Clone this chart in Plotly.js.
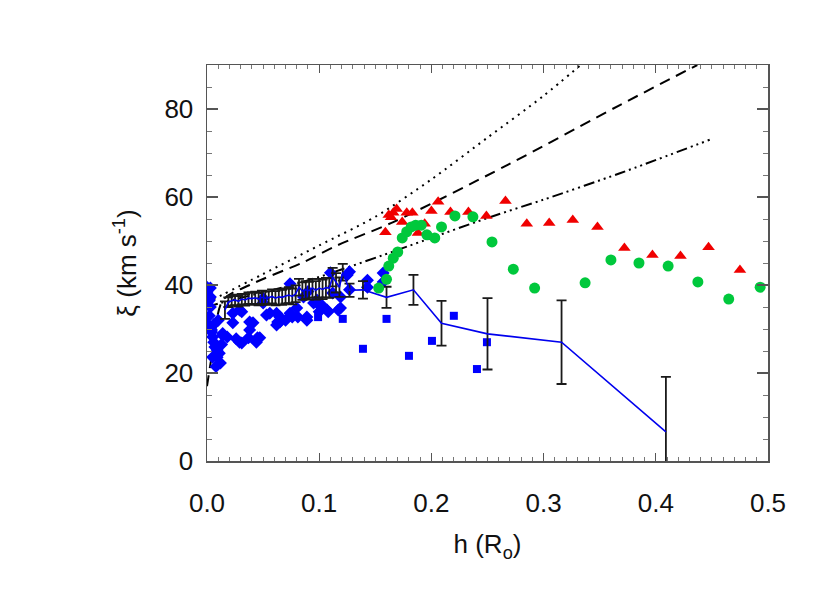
<!DOCTYPE html>
<html>
<head>
<meta charset="utf-8">
<script src="https://cdn.plot.ly/plotly-3.0.1.min.js"></script>
<style>
  body { margin: 0; background: #fff; }
  #plot { width: 830px; height: 593px; }
</style>
</head>
<body>
<div id="plot"></div>
<script>
// model curves (black)
let dotH  = [0.0, 0.05, 0.10, 0.15, 0.20, 0.25, 0.30, 0.333];
let dotXi = [36.0, 42.5, 49.0, 55.5, 64.0, 73.5, 83.0, 90.0];

let dashH  = [0.0, 0.005, 0.014, 0.038, 0.086, 0.116, 0.166, 0.268, 0.368, 0.437];
let dashXi = [17.0, 25.0, 36.5, 40.0, 45.2, 49.0, 54.3, 67.3, 80.9, 90.0];

let ddotH  = [0.0, 0.012, 0.083, 0.1185, 0.157, 0.252, 0.30, 0.368, 0.448];
let ddotXi = [35.0, 35.9, 40.5, 43.4, 46.8, 55.4, 59.4, 65.4, 73.0];

// blue diamonds
let diaH = [0.0, 0.0, 0.001, 0.002, 0.002, 0.003, 0.003, 0.003, 0.004, 0.004, 0.005, 0.005,
  0.006, 0.006, 0.007, 0.008, 0.009, 0.009, 0.010, 0.011, 0.012, 0.013, 0.014, 0.014, 0.018,
  0.023, 0.023, 0.026, 0.029, 0.029, 0.031, 0.031, 0.037, 0.038, 0.038, 0.041, 0.044, 0.045,
  0.047, 0.050, 0.050, 0.053, 0.056, 0.062, 0.062, 0.063, 0.065, 0.065, 0.070, 0.074, 0.074,
  0.076, 0.080, 0.081, 0.086, 0.089, 0.089, 0.090, 0.095, 0.098, 0.098, 0.100, 0.102, 0.107,
  0.108, 0.110, 0.112, 0.117, 0.119, 0.119, 0.125, 0.127, 0.127, 0.143, 0.143, 0.157, 0.157];
let diaXi = [39.5, 38.4, 31.0, 33.0, 36.5, 39.3, 37.3, 35.0, 29.8, 29.3, 28.2, 23.6,
  27.0, 31.0, 25.9, 21.5, 23.6, 25.2, 32.0, 24.5, 22.3, 26.5, 29.0, 28.6, 28.2,
  33.6, 31.4, 27.8, 27.0, 34.3, 33.9, 26.8, 28.0, 31.6, 29.8, 31.4, 27.0, 28.0,
  28.0, 35.9, 37.0, 33.2, 33.6, 33.6, 30.9, 31.6, 32.7, 31.6, 32.0, 40.3, 33.6,
  32.7, 34.8, 32.7, 37.3, 32.7, 32.0, 38.5, 35.9, 36.6, 35.9, 33.9, 35.5, 34.3,
  33.9, 42.8, 38.2, 34.3, 37.3, 34.8, 42.3, 43.0, 38.9, 41.1, 39.5, 42.7, 40.7];

// blue squares
let sqH  = [0.099, 0.121, 0.139, 0.160, 0.180, 0.2005, 0.220, 0.2406, 0.2495];
let sqXi = [32.7, 32.3, 25.5, 32.3, 23.9, 27.3, 33.0, 20.9, 27.0];

// blue mean line with error bars
let meanH = [0.016, 0.019, 0.022, 0.025, 0.028, 0.031, 0.034, 0.037, 0.040, 0.043, 0.046,
  0.049, 0.052, 0.055, 0.058, 0.061, 0.064, 0.067, 0.070, 0.073, 0.076, 0.079, 0.082, 0.085,
  0.088, 0.091, 0.094, 0.097, 0.100, 0.103, 0.106, 0.109, 0.112, 0.115, 0.118, 0.121, 0.127,
  0.139, 0.160, 0.184, 0.209, 0.250, 0.316, 0.409];
let meanXi = [34.3, 36.1, 36.4, 36.6, 36.3, 36.8, 36.6, 37.0, 36.9, 37.1, 36.8,
  37.2, 37.0, 37.1, 37.4, 37.0, 37.3, 37.2, 37.5, 37.7, 37.4, 38.0, 39.5, 38.6,
  38.9, 38.7, 39.3, 38.8, 39.3, 39.0, 39.4, 39.3, 41.8, 40.5, 39.5, 42.9, 38.8,
  38.9, 37.2, 38.9, 31.3, 28.9, 27.0, 6.6];
let meanErr = [2.0, 1.1, 1.1, 1.2, 1.2, 1.2, 1.3, 1.3, 1.4, 1.4, 1.4,
  1.5, 1.5, 1.5, 1.6, 1.6, 1.7, 1.7, 1.7, 1.8, 1.8, 1.9, 1.9, 2.0,
  2.0, 2.0, 2.1, 2.1, 2.1, 2.2, 2.2, 2.2, 2.1, 2.2, 2.2, 1.9, 1.5,
  2.0, 2.4, 3.4, 5.1, 8.1, 9.5, 12.5];

// red triangles
let triH  = [0.159, 0.162, 0.164, 0.166, 0.169, 0.174, 0.178, 0.183, 0.188, 0.194, 0.200,
  0.206, 0.217, 0.233, 0.249, 0.266, 0.285, 0.305, 0.326, 0.348, 0.372, 0.397, 0.422,
  0.447, 0.475];
let triXi = [52.0, 55.9, 55.4, 56.4, 57.3, 54.3, 56.4, 56.4, 51.8, 53.9, 56.8,
  58.9, 56.6, 56.6, 55.7, 59.1, 53.9, 54.1, 54.8, 53.2, 48.4, 46.8, 46.6,
  48.6, 43.4];

// green circles
let cirH  = [0.153, 0.160, 0.162, 0.166, 0.170, 0.174, 0.178, 0.182, 0.186, 0.191, 0.196,
  0.203, 0.209, 0.221, 0.237, 0.254, 0.273, 0.292, 0.337, 0.360, 0.385, 0.411, 0.4375,
  0.465, 0.493];
let cirXi = [39.3, 41.3, 44.3, 46.1, 47.5, 50.7, 52.1, 53.2, 53.6, 53.6, 51.4,
  50.7, 53.2, 55.7, 55.5, 49.8, 43.6, 39.3, 40.5, 45.7, 45.0, 44.3, 40.7,
  36.8, 39.5];

let traces = [
  { x: dotH, y: dotXi, mode: 'lines', line: { color: '#000', width: 2, dash: '2px,5px', shape: 'spline', smoothing: 0.8 } },
  { x: dashH, y: dashXi, mode: 'lines', line: { color: '#000', width: 2, dash: '11px,7px', shape: 'spline', smoothing: 0.8 } },
  { x: ddotH, y: ddotXi, mode: 'lines', line: { color: '#000', width: 2, dash: '11px,4px,2px,4px,2px,4px,2px,4px', shape: 'spline', smoothing: 0.8 } },
  { x: diaH, y: diaXi, mode: 'markers', marker: { symbol: 'diamond', size: 10, color: '#0000ff' } },
  { x: sqH, y: sqXi, mode: 'markers', marker: { symbol: 'square', size: 8, color: '#0000ff' } },
  {
    x: meanH, y: meanXi, mode: 'markers',
    marker: { size: 2, color: 'rgba(0,0,0,0)' },
    error_y: { type: 'data', array: meanErr, color: '#1a1a1a', thickness: 1.8, width: 5 }
  },
  { x: meanH, y: meanXi, mode: 'lines', line: { color: '#0000ee', width: 1.6 } },
  { x: triH, y: triXi, mode: 'markers', marker: { symbol: 'triangle-up', size: 11, color: '#f00000' } },
  { x: cirH, y: cirXi, mode: 'markers', marker: { symbol: 'circle', size: 11, color: '#00c83c' } }
];

let axisFont = { family: 'Liberation Sans, Arial, sans-serif', size: 26, color: '#111' };

let layout = {
  width: 830,
  height: 593,
  margin: { l: 207, r: 62, t: 65, b: 132 },
  paper_bgcolor: '#fff',
  plot_bgcolor: '#fff',
  showlegend: false,
  font: axisFont,
  xaxis: {
    range: [0, 0.5],
    dtick: 0.1,
    tick0: 0,
    tickformat: '.1f',
    ticks: 'inside',
    ticklen: 8,
    tickwidth: 1.3,
    tickcolor: '#555',
    minor: { dtick: 0.01, ticks: 'inside', ticklen: 4, tickwidth: 1, tickcolor: '#777' },
    showline: true,
    linecolor: '#555',
    linewidth: 1.5,
    mirror: 'allticks',
    showgrid: false,
    zeroline: false,
    ticklabelstandoff: 18,
    tickfont: axisFont,
    title: { text: 'h (R<sub>o</sub>)', font: axisFont, standoff: 18 }
  },
  yaxis: {
    range: [0, 90],
    dtick: 20,
    tick0: 0,
    ticks: 'inside',
    ticklen: 11,
    tickwidth: 1.3,
    tickcolor: '#555',
    minor: { dtick: 5, ticks: 'inside', ticklen: 5, tickwidth: 1, tickcolor: '#777' },
    showline: true,
    linecolor: '#555',
    linewidth: 1.5,
    mirror: 'allticks',
    showgrid: false,
    zeroline: false,
    ticklabelstandoff: 7,
    tickfont: axisFont,
    title: { text: 'ξ (km s<sup>-1</sup>)', font: axisFont, standoff: 20 }
  }
};

Plotly.newPlot('plot', traces, layout, { displayModeBar: false, staticPlot: true });
</script>
</body>
</html>
